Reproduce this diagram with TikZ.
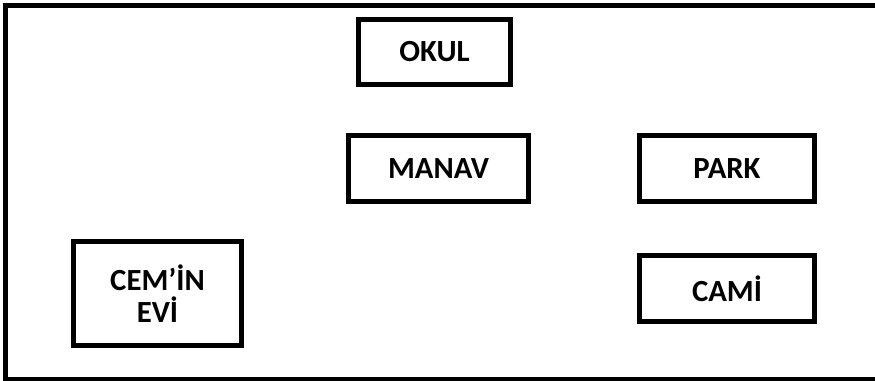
\documentclass[tikz,border=0pt]{standalone}
\usepackage{fontspec}
\setmainfont{Carlito}
\tikzset{place/.style={draw, black, line width=0.1cm, inner sep=0pt, align=center,
    font=\bfseries\fontsize{17.5}{18.5}\selectfont}}

\begin{document}
\begin{tikzpicture}[x=0.02cm, y=-0.02cm]
\useasboundingbox (0,0) rectangle (875,380);
\clip (0,0) rectangle (875,380);
\draw[black, line width=0.1cm] (5.5,5.5) rectangle (900,379.5);
\node[place, minimum width=3.04cm, minimum height=1.3cm] (okul) at (434.5,52) {OKUL};
\node[place, minimum width=3.6cm, minimum height=1.32cm] (manav) at (438.5,168.5) {MANAV};
\node[place, minimum width=3.5cm, minimum height=1.32cm] (park) at (727,168.5) {PARK};
\node[place, minimum width=3.5cm, minimum height=1.32cm] (cami) at (727,288.5) {CAMİ};
\node[place, minimum width=3.36cm, minimum height=2.08cm] (evi) at (157.5,293.5)
    {CEM’İN\\EVİ};
\end{tikzpicture}
\end{document}
